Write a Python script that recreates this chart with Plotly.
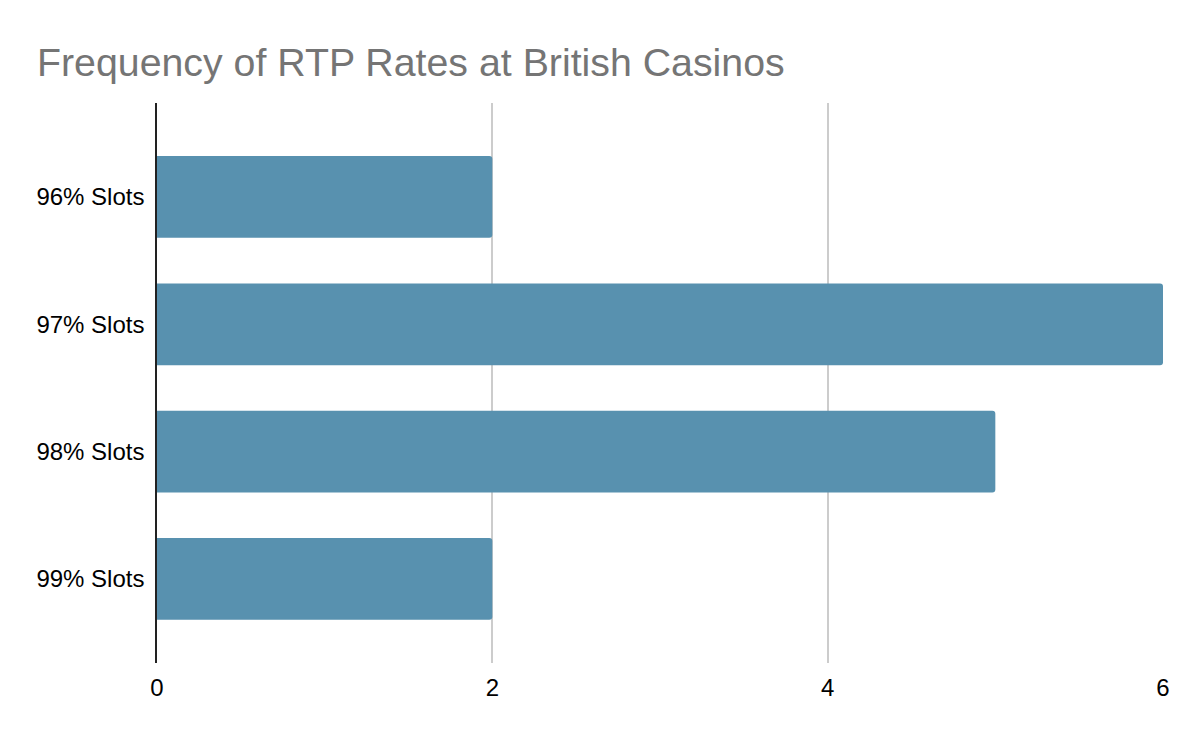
import plotly.graph_objects as go

categories = ["96% Slots", "97% Slots", "98% Slots", "99% Slots"]
values = [2, 6, 5, 2]
x_ticks = [0, 2, 4, 6]

fig = go.Figure(go.Bar(
    x=values, y=categories, orientation="h",
    marker=dict(color="#5891AF", line=dict(width=0), cornerradius=3),
    width=0.642,
))

fig.update_layout(
    width=1200, height=742,
    margin=dict(l=157, r=37, t=103, b=79),
    paper_bgcolor="white", plot_bgcolor="white",
    font=dict(family="Liberation Sans, Arial, sans-serif", size=24, color="#000000"),
    title=dict(text="Frequency of RTP Rates at British Casinos",
               x=37/1200, xref="container", xanchor="left",
               y=1 - 48/742, yanchor="top", pad=dict(l=0, t=0),
               font=dict(size=39.3, color="#757575", family="Liberation Sans, Arial, sans-serif")),
    showlegend=False,
)

fig.update_xaxes(range=[0, 6], tickvals=x_ticks, showgrid=True, gridcolor="#cccccc",
                 gridwidth=1.5, zeroline=False, showline=False, ticks="",
                 ticklabelstandoff=8,
                 tickfont=dict(size=24, color="#000000"))
fig.update_yaxes(range=[3.66, -0.738], showgrid=False, showline=True, linecolor="#222222",
                 linewidth=1.5, ticks="", ticklabelstandoff=6,
                 tickfont=dict(size=24, color="#000000"))

fig.write_html("out.html")
